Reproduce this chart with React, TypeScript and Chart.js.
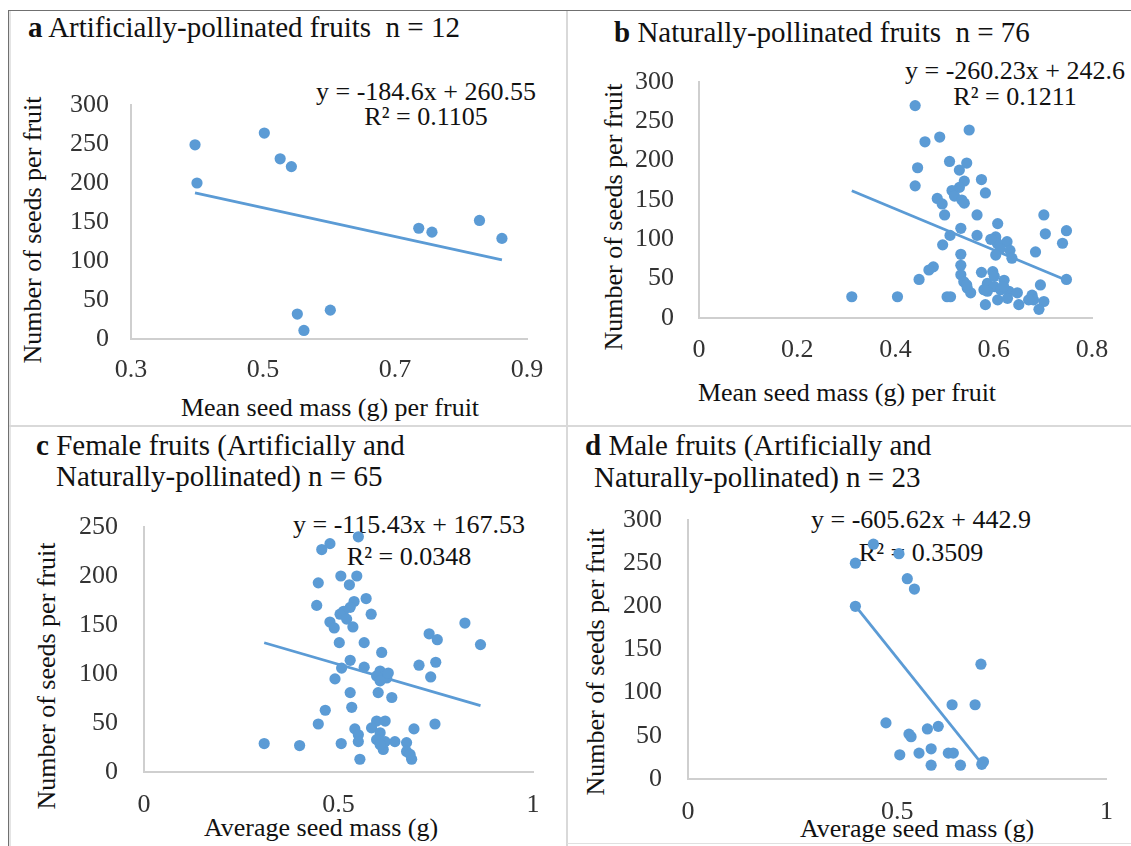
import React, { useEffect, useRef } from "react";
import { Chart, registerables } from "chart.js";

Chart.register(...registerables);

const FONT = '"Liberation Serif", "Times New Roman", Times, serif';
Chart.defaults.font.family = FONT;

const BLUE = "#5b9bd5";
const AXIS = "#cfcfcf";
const TICK_COLOR = "#333333";
const TEXT_COLOR = "#111111";

// a: artificially-pollinated fruits (n = 12)
const massA = [0.397, 0.4, 0.502, 0.526, 0.543, 0.552, 0.562, 0.602, 0.736, 0.756, 0.828, 0.862];
const seedsA = [249, 200, 264, 231, 221, 32, 11, 37, 142, 137, 152, 129];
const slopeA = -184.6;
const interceptA = 260.55;
const r2A = "0.1105";
const xTicksA = [0.3, 0.5, 0.7, 0.9];
const yTicksA = [0, 50, 100, 150, 200, 250, 300];

// b: naturally-pollinated fruits (n = 76)
const massB = [
  0.44, 0.55, 0.46, 0.49, 0.51, 0.545, 0.53, 0.445, 0.44, 0.575,
  0.54, 0.53, 0.515, 0.52, 0.535, 0.583, 0.485, 0.495, 0.54, 0.5,
  0.566, 0.702, 0.608, 0.533, 0.511, 0.566, 0.705, 0.604, 0.627, 0.607,
  0.496, 0.613, 0.633, 0.685, 0.604, 0.637, 0.533, 0.533, 0.477, 0.468,
  0.448, 0.533, 0.539, 0.546, 0.553, 0.575, 0.598, 0.621, 0.587, 0.601,
  0.614, 0.587, 0.631, 0.648, 0.608, 0.583, 0.651, 0.678, 0.695, 0.681,
  0.702, 0.692, 0.311, 0.404, 0.505, 0.512, 0.748, 0.748, 0.74, 0.594,
  0.58, 0.601, 0.628, 0.671, 0.545, 0.62,
];
const seedsB = [
  270, 239, 224, 230, 199, 197, 188, 191, 168, 176,
  174, 166, 162, 155, 150, 159, 152, 145, 146, 131,
  131, 131, 120, 114, 105, 105, 107, 103, 97, 95,
  93, 88, 86, 84, 80, 76, 81, 67, 65, 61,
  49, 55, 46, 38, 32, 58, 59, 48, 44, 40,
  36, 34, 34, 32, 23, 17, 17, 29, 42, 23,
  21, 11, 27, 27, 27, 27, 49, 111, 95, 100,
  36, 53, 25, 23, 42, 40,
];
const slopeB = -260.23;
const interceptB = 242.6;
const r2B = "0.1211";
const xTicksB = [0, 0.2, 0.4, 0.6, 0.8];
const yTicksB = [0, 50, 100, 150, 200, 250, 300];

// c: female fruits, both pollination types (n = 65)
const massC = [
  0.551, 0.457, 0.478, 0.448, 0.506, 0.547, 0.528, 0.571, 0.444, 0.54,
  0.53, 0.513, 0.504, 0.584, 0.521, 0.478, 0.489, 0.537, 0.502, 0.566,
  0.733, 0.754, 0.825, 0.865, 0.611, 0.53, 0.508, 0.566, 0.707, 0.75,
  0.607, 0.624, 0.598, 0.628, 0.607, 0.491, 0.737, 0.53, 0.602, 0.637,
  0.534, 0.466, 0.448, 0.748, 0.694, 0.598, 0.62, 0.585, 0.607, 0.542,
  0.551, 0.551, 0.598, 0.62, 0.645, 0.675, 0.615, 0.675, 0.688, 0.555,
  0.309, 0.4, 0.507, 0.684, 0.607,
];
const seedsC = [
  240, 227, 233, 193, 200, 200, 191, 177, 170, 174,
  168, 164, 161, 161, 156, 153, 147, 148, 132, 132,
  141, 135, 152, 130, 122, 114, 106, 107, 109, 112,
  103, 96, 98, 101, 93, 95, 97, 81, 81, 76,
  66, 63, 49, 49, 44, 52, 52, 45, 40, 44,
  38, 31, 33, 31, 31, 30, 23, 21, 13, 13,
  29, 27, 29, 18, 28,
];
const slopeC = -115.43;
const interceptC = 167.53;
const r2C = "0.0348";
const xTicksC = [0, 0.5, 1];
const yTicksC = [0, 50, 100, 150, 200, 250];

// d: male fruits, both pollination types (n = 23)
const massD = [
  0.4, 0.4, 0.443, 0.504, 0.524, 0.541, 0.7, 0.631, 0.686, 0.473,
  0.528, 0.533, 0.572, 0.598, 0.506, 0.552, 0.581, 0.622, 0.634, 0.581,
  0.651, 0.706, 0.702,
];
const seedsD = [
  250, 200, 272, 261, 232, 220, 133, 86, 86, 65,
  52, 49, 58, 61, 28, 30, 35, 30, 30, 16,
  16, 20, 17,
];
const slopeD = -605.62;
const interceptD = 442.9;
const r2D = "0.3509";
const xTicksD = [0, 0.5, 1];
const yTicksD = [0, 50, 100, 150, 200, 250, 300];

type Spec = {
  box: [number, number, number, number]; // left, top, width, height of the canvas
  plot: [number, number, number, number]; // plot area left, top, right, bottom (page px)
  xs: number[];
  ys: number[];
  slope: number;
  intercept: number;
  xTicks: number[];
  yTicks: number[];
  xPad: number;
  yPad: number;
};

function toPoints(xs: number[], ys: number[]) {
  return xs.map((x, i) => ({ x, y: ys[i] }));
}

// fitted line drawn over the observed range of seed mass
function trendPoints(xs: number[], slope: number, intercept: number) {
  const lo = Math.min(...xs);
  const hi = Math.max(...xs);
  return [
    { x: lo, y: slope * lo + intercept },
    { x: hi, y: slope * hi + intercept },
  ];
}

function ScatterPanel({ spec }: { spec: Spec }) {
  const ref = useRef<HTMLCanvasElement>(null);
  const [bx, by, bw, bh] = spec.box;

  useEffect(() => {
    const [pl, pt, pr, pb] = spec.plot;
    const L = pl - bx;
    const T = pt - by;
    const R = bx + bw - pr;
    const B = by + bh - pb;
    const tickFont = { family: FONT, size: 26 };
    const xt = spec.xTicks;
    const yt = spec.yTicks;

    const chart = new Chart(ref.current as HTMLCanvasElement, {
      type: "scatter",
      data: {
        datasets: [
          {
            data: toPoints(spec.xs, spec.ys),
            backgroundColor: BLUE,
            borderColor: BLUE,
            borderWidth: 0,
            pointRadius: 5.6,
            pointHoverRadius: 5.6,
            order: 1,
          },
          {
            data: trendPoints(spec.xs, spec.slope, spec.intercept),
            showLine: true,
            borderColor: BLUE,
            backgroundColor: BLUE,
            borderWidth: 2.8,
            pointRadius: 0,
            pointHoverRadius: 0,
            fill: false,
            order: 2,
          },
        ],
      },
      options: {
        animation: false,
        responsive: false,
        maintainAspectRatio: false,
        devicePixelRatio: 1,
        layout: { padding: { left: 0, top: T, right: R, bottom: 0 } },
        plugins: {
          legend: { display: false },
          tooltip: { enabled: false },
          title: { display: false },
        },
        scales: {
          x: {
            type: "linear",
            position: "bottom",
            min: xt[0],
            max: xt[xt.length - 1],
            afterBuildTicks: (scale: any) => {
              scale.ticks = xt.map((v) => ({ value: v }));
            },
            afterFit: (scale: any) => {
              scale.height = B;
            },
            ticks: {
              font: tickFont,
              color: TICK_COLOR,
              padding: spec.xPad,
              maxRotation: 0,
              autoSkip: false,
              callback: (v: any) => String(v),
            },
            grid: { display: false, drawTicks: false },
            border: { display: true, color: AXIS, width: 2 },
          },
          y: {
            type: "linear",
            min: yt[0],
            max: yt[yt.length - 1],
            afterBuildTicks: (scale: any) => {
              scale.ticks = yt.map((v) => ({ value: v }));
            },
            afterFit: (scale: any) => {
              scale.width = L;
            },
            ticks: {
              font: tickFont,
              color: TICK_COLOR,
              padding: spec.yPad,
              autoSkip: false,
              callback: (v: any) => String(v),
            },
            grid: { display: false, drawTicks: false },
            border: { display: true, color: AXIS, width: 2 },
          },
        },
      },
    } as any);
    return () => chart.destroy();
  }, [spec]);

  return (
    <canvas
      ref={ref}
      width={bw}
      height={bh}
      style={{ position: "absolute", left: bx, top: by, width: bw, height: bh, display: "block" }}
    />
  );
}

type TxtProps = {
  x: number;
  y: number;
  center?: boolean;
  vertical?: boolean;
  size?: number;
  children: React.ReactNode;
};

function Txt({ x, y, center = false, vertical = false, size = 26, children }: TxtProps) {
  let transform = center ? "translate(-50%, -50%)" : "translate(0, -50%)";
  if (vertical) transform = "translate(-50%, -50%) rotate(-90deg)";
  return (
    <div
      style={{
        position: "absolute",
        left: x,
        top: y,
        transform,
        fontFamily: FONT,
        fontSize: size,
        lineHeight: 1,
        color: TEXT_COLOR,
        whiteSpace: "pre",
      }}
    >
      {children}
    </div>
  );
}

const eq = (s: number, c: number) => `y = ${s}x + ${c}`;

const specA: Spec = {
  box: [8, 10, 559, 416],
  plot: [131, 105, 527, 339],
  xs: massA, ys: seedsA, slope: slopeA, intercept: interceptA,
  xTicks: xTicksA, yTicks: yTicksA, xPad: 16, yPad: 22,
};
const specB: Spec = {
  box: [567, 10, 564, 416],
  plot: [699, 82, 1092, 318],
  xs: massB, ys: seedsB, slope: slopeB, intercept: interceptB,
  xTicks: xTicksB, yTicks: yTicksB, xPad: 17, yPad: 25,
};
const specC: Spec = {
  box: [8, 426, 559, 420],
  plot: [144, 527, 533, 772],
  xs: massC, ys: seedsC, slope: slopeC, intercept: interceptC,
  xTicks: xTicksC, yTicks: yTicksC, xPad: 18, yPad: 26,
};
const specD: Spec = {
  box: [567, 426, 564, 420],
  plot: [688, 520, 1108, 779],
  xs: massD, ys: seedsD, slope: slopeD, intercept: interceptD,
  xTicks: xTicksD, yTicks: yTicksD, xPad: 18, yPad: 26,
};

const TITLE = 29;

export default function App() {
  const line = (style: React.CSSProperties) => (
    <div style={{ position: "absolute", ...style }} />
  );
  return (
    <div
      style={{
        position: "absolute",
        left: 0,
        top: 0,
        width: 1131,
        height: 846,
        background: "#ffffff",
        overflow: "hidden",
      }}
    >
      {/* frame and panel dividers */}
      {line({ left: 8, top: 10, width: 1123, height: 1, background: "#707070" })}
      {line({ left: 8, top: 10, width: 1, height: 836, background: "#707070" })}
      {line({ left: 9, top: 11, width: 2, height: 835, background: "#e4e4e4" })}
      {line({ left: 566, top: 11, width: 2, height: 835, background: "#d9d9d9" })}
      {line({ left: 9, top: 425, width: 1122, height: 2, background: "#d9d9d9" })}
      {line({ left: 567, top: 843, width: 564, height: 1, background: "#e0e0e0" })}

      {/* panel a */}
      <Txt x={28} y={27} size={TITLE}><b>a</b> Artificially-pollinated fruits  n = 12</Txt>
      <Txt x={426} y={92} center>{eq(slopeA, interceptA)}</Txt>
      <Txt x={426} y={117} center>R² = {r2A}</Txt>
      <Txt x={33} y={230} vertical>Number of seeds per fruit</Txt>
      <Txt x={330} y={408} center>Mean seed mass (g) per fruit</Txt>

      {/* panel b */}
      <Txt x={614} y={32} size={TITLE}><b>b</b> Naturally-pollinated fruits  n = 76</Txt>
      <Txt x={1015} y={71} center>{eq(slopeB, interceptB)}</Txt>
      <Txt x={1015} y={97} center>R² = {r2B}</Txt>
      <Txt x={614} y={217} vertical>Number of seeds per fruit</Txt>
      <Txt x={847} y={393} center>Mean seed mass (g) per fruit</Txt>

      {/* panel c */}
      <Txt x={36} y={445} size={TITLE}><b>c</b> Female fruits (Artificially and</Txt>
      <Txt x={56} y={476} size={TITLE}>Naturally-pollinated) n = 65</Txt>
      <Txt x={409} y={525} center>{eq(slopeC, interceptC)}</Txt>
      <Txt x={409} y={557} center>R² = {r2C}</Txt>
      <Txt x={47} y={676} vertical>Number of seeds per fruit</Txt>
      <Txt x={321} y={828} center>Average seed mass (g)</Txt>

      {/* panel d */}
      <Txt x={585} y={445} size={TITLE}><b>d</b> Male fruits (Artificially and</Txt>
      <Txt x={594} y={477} size={TITLE}>Naturally-pollinated) n = 23</Txt>
      <Txt x={921} y={520} center>{eq(slopeD, interceptD)}</Txt>
      <Txt x={921} y={553} center>R² = {r2D}</Txt>
      <Txt x={596} y={662} vertical>Number of seeds per fruit</Txt>
      <Txt x={917} y={829} center>Average seed mass (g)</Txt>

      <ScatterPanel spec={specA} />
      <ScatterPanel spec={specB} />
      <ScatterPanel spec={specC} />
      <ScatterPanel spec={specD} />
    </div>
  );
}
